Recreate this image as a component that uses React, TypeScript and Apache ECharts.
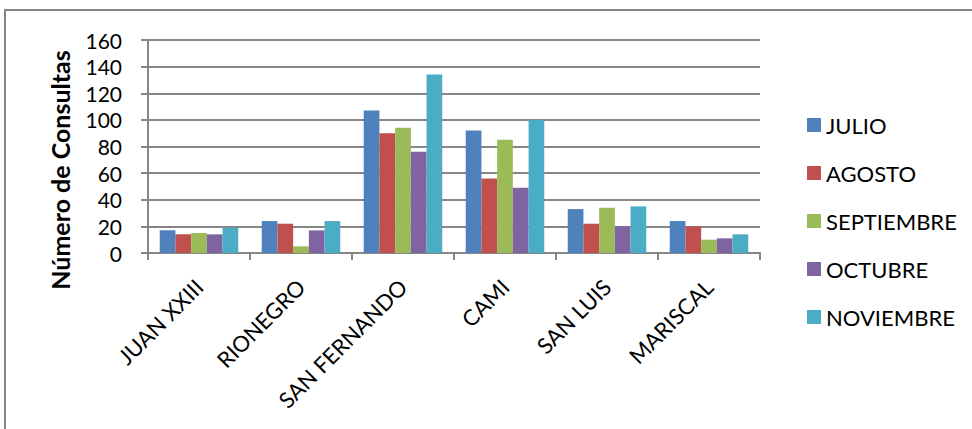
import React, { useEffect, useRef } from "react";
import * as echarts from "echarts";

const categories = ["JUAN XXIII", "RIONEGRO", "SAN FERNANDO", "CAMI", "SAN LUIS", "MARISCAL"];
const seriesNames = ["JULIO", "AGOSTO", "SEPTIEMBRE", "OCTUBRE", "NOVIEMBRE"];
const julio = [17, 24, 107, 92, 33, 24];
const agosto = [14, 22, 90, 56, 22, 20];
const septiembre = [15, 5, 94, 85, 34, 10];
const octubre = [14, 17, 76, 49, 20, 11];
const noviembre = [19, 24, 134, 100, 35, 14];
const seriesValues = [julio, agosto, septiembre, octubre, noviembre];
const colors = ["#4F81BD", "#C0504D", "#9BBB59", "#8064A2", "#4BACC6"];
const yAxisTitle = "Número de Consultas";

export default function App() {
  const ref = useRef<HTMLDivElement>(null);
  useEffect(() => {
    if (!ref.current) return;
    const chart = echarts.init(ref.current, null, { renderer: "svg" });
    const font = "Lato, 'Open Sans', sans-serif";
    chart.setOption({
      animation: false,
      textStyle: { fontFamily: font },
      grid: { left: 148, top: 40, width: 612, height: 213, containLabel: false },
      legend: {
        orient: "vertical",
        left: 802,
        top: 109,
        itemWidth: 14,
        itemHeight: 14,
        itemGap: 26,
        icon: "rect",
        data: seriesNames,
        textStyle: { fontSize: 22, lineHeight: 22, color: "#000", fontFamily: font },
      },
      xAxis: {
        type: "category",
        data: categories,
        axisLine: { lineStyle: { color: "#868686", width: 2 } },
        axisTick: { show: true, length: 7, alignWithLabel: false, lineStyle: { color: "#868686", width: 2 } },
        axisLabel: { rotate: 45, fontSize: 22, color: "#000", margin: 30, interval: 0, fontFamily: font },
      },
      yAxis: {
        type: "value",
        min: 0,
        max: 160,
        interval: 20,
        axisLine: { show: true, lineStyle: { color: "#868686", width: 2 } },
        axisTick: { show: true, length: 7, lineStyle: { color: "#868686", width: 2 } },
        splitLine: { lineStyle: { color: "#868686", width: 2 } },
        axisLabel: { fontSize: 21, color: "#000", margin: 26, fontFamily: font },
      },
      series: seriesNames.map((name, i) => ({
        name,
        type: "bar",
        data: seriesValues[i],
        barGap: "0%",
        barCategoryGap: "23%",
        itemStyle: { color: colors[i] },
      })),
      graphic: [
        {
          type: "rect",
          shape: { x: 5, y: 10, width: 1000, height: 500 },
          style: { fill: "none", stroke: "#868686", lineWidth: 2 },
          silent: true,
          z: -1,
        },
        {
          type: "text",
          x: 60,
          y: 170,
          rotation: Math.PI / 2,
          style: {
            text: yAxisTitle,
            fontSize: 25,
            fontWeight: "bold",
            fontFamily: font,
            fill: "#000",
            align: "center",
            verticalAlign: "middle",
          },
        },
      ],
    });
    return () => chart.dispose();
  }, []);
  return (
    <div
      ref={ref}
      style={{ position: "absolute", left: 0, top: 0, width: 972, height: 429, background: "#fff" }}
    />
  );
}
